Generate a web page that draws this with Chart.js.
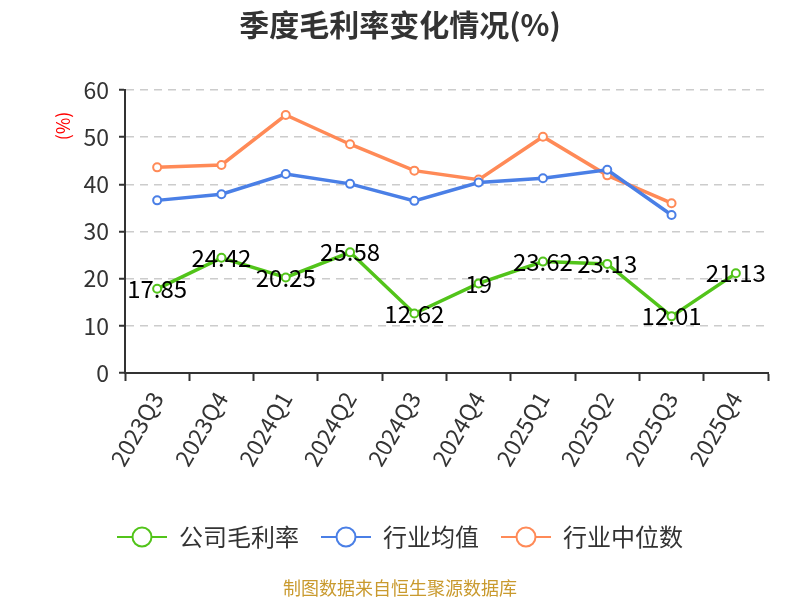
<!DOCTYPE html>
<html>
<head>
<meta charset="utf-8">
<script src="https://cdn.jsdelivr.net/npm/chart.js@4/dist/chart.umd.min.js"></script>
<style>
  html, body { margin: 0; padding: 0; background: #fff; }
  #wrap { width: 800px; height: 600px; }
</style>
</head>
<body>
<div id="wrap"><canvas id="myChart" width="800" height="600"></canvas></div>
<script>
var quarters = ['2023Q3', '2023Q4', '2024Q1', '2024Q2', '2024Q3', '2024Q4', '2025Q1', '2025Q2', '2025Q3', '2025Q4'];
var gross = [17.85, 24.42, 20.25, 25.58, 12.62, 19, 23.62, 23.13, 12.01, 21.13];
var industryAvg = [36.6, 37.9, 42.2, 40.1, 36.5, 40.4, 41.3, 43.1, 33.5, null];
var industryMid = [43.6, 44.1, 54.7, 48.5, 42.9, 41.0, 50.1, 41.9, 36.0, null];
var yTicks = [0, 10, 20, 30, 40, 50, 60];

var green = '#52c41a';
var blue = '#4a7fe6';
var orange = '#ff8a57';

Chart.defaults.font.family = "'Noto Sans CJK SC', 'Noto Sans', sans-serif";

// legend marker: short line with an open circle
function legendMark(color) {
  var c = document.createElement('canvas');
  c.width = 50; c.height = 24;
  var g = c.getContext('2d');
  g.strokeStyle = color;
  g.lineWidth = 2;
  g.beginPath(); g.moveTo(0, 12); g.lineTo(50, 12); g.stroke();
  g.beginPath(); g.arc(25, 12, 9.5, 0, Math.PI * 2);
  g.fillStyle = '#fff'; g.fill(); g.stroke();
  return c;
}

var valueLabels = {
  id: 'valueLabels',
  afterDatasetsDraw: function (chart) {
    var ctx = chart.ctx;
    var meta = chart.getDatasetMeta(0);
    ctx.save();
    ctx.font = "24px 'Noto Sans CJK SC', sans-serif";
    ctx.fillStyle = '#000';
    ctx.textAlign = 'center';
    ctx.textBaseline = 'middle';
    meta.data.forEach(function (pt, i) {
      ctx.fillText(String(gross[i]), pt.x, pt.y);
    });
    ctx.restore();
  }
};

var unitLabel = {
  id: 'unitLabel',
  afterDraw: function (chart) {
    var ctx = chart.ctx;
    ctx.save();
    ctx.translate(63, 126);
    ctx.rotate(-Math.PI / 2);
    ctx.font = "18px 'Noto Sans CJK SC', sans-serif";
    ctx.fillStyle = '#ff0000';
    ctx.textAlign = 'center';
    ctx.textBaseline = 'middle';
    ctx.fillText('(%)', 0, 0);
    ctx.restore();
  }
};

function lineSet(label, data, color) {
  return {
    label: label,
    data: data,
    borderColor: color,
    backgroundColor: '#fff',
    borderWidth: 3.5,
    pointRadius: 4,
    pointBorderWidth: 2,
    pointBackgroundColor: '#fff',
    pointBorderColor: color,
    tension: 0,
    spanGaps: false
  };
}

var chart = new Chart(document.getElementById('myChart'), {
  type: 'line',
  data: {
    labels: quarters,
    datasets: [
      lineSet('公司毛利率', gross, green),
      lineSet('行业均值', industryAvg, blue),
      lineSet('行业中位数', industryMid, orange)
    ]
  },
  options: {
    responsive: false,
    animation: false,
    layout: { padding: { left: 32, right: 32, top: 0, bottom: 1 } },
    scales: {
      x: {
        offset: true,
        grid: { offset: true, drawOnChartArea: false, drawTicks: true, tickLength: 8, tickColor: '#333', tickWidth: 2 },
        border: { color: '#333', width: 2 },
        ticks: { color: '#333', font: { size: 23 }, maxRotation: 60, minRotation: 60, padding: 6 },
        afterFit: function (s) { s.height = 130; }
      },
      y: {
        min: 0,
        max: 60,
        afterBuildTicks: function (s) { s.ticks = yTicks.map(function (v) { return { value: v }; }); },
        grid: { color: '#cccccc', lineWidth: 1.5, tickColor: '#333', tickLength: 6, tickWidth: 2 },
        border: { color: '#333', width: 2, dash: [8, 6] },
        ticks: { color: '#333', font: { size: 23 }, padding: 10 },
        afterFit: function (s) { s.width = 93; }
      }
    },
    plugins: {
      title: {
        display: true,
        text: '季度毛利率变化情况(%)',
        color: '#333',
        font: { size: 30, weight: 'bold' },
        padding: { top: 6.5, bottom: 47.5 }
      },
      subtitle: {
        display: true,
        position: 'bottom',
        text: '制图数据来自恒生聚源数据库',
        color: '#c99a2e',
        font: { size: 18 },
        padding: { top: 18.4, bottom: 0 }
      },
      legend: {
        position: 'bottom',
        labels: {
          usePointStyle: true,
          pointStyleWidth: 50,
          color: '#333',
          font: { size: 24 },
          padding: 22,
          generateLabels: function (ch) {
            return ch.data.datasets.map(function (ds, i) {
              return {
                text: ds.label,
                pointStyle: legendMark(ds.borderColor),
                fillStyle: '#fff',
                strokeStyle: ds.borderColor,
                lineWidth: 0,
                fontColor: '#333',
                datasetIndex: i,
                hidden: false
              };
            });
          }
        }
      },
      tooltip: { enabled: false }
    }
  },
  plugins: [valueLabels, unitLabel]
});
</script>
</body>
</html>
